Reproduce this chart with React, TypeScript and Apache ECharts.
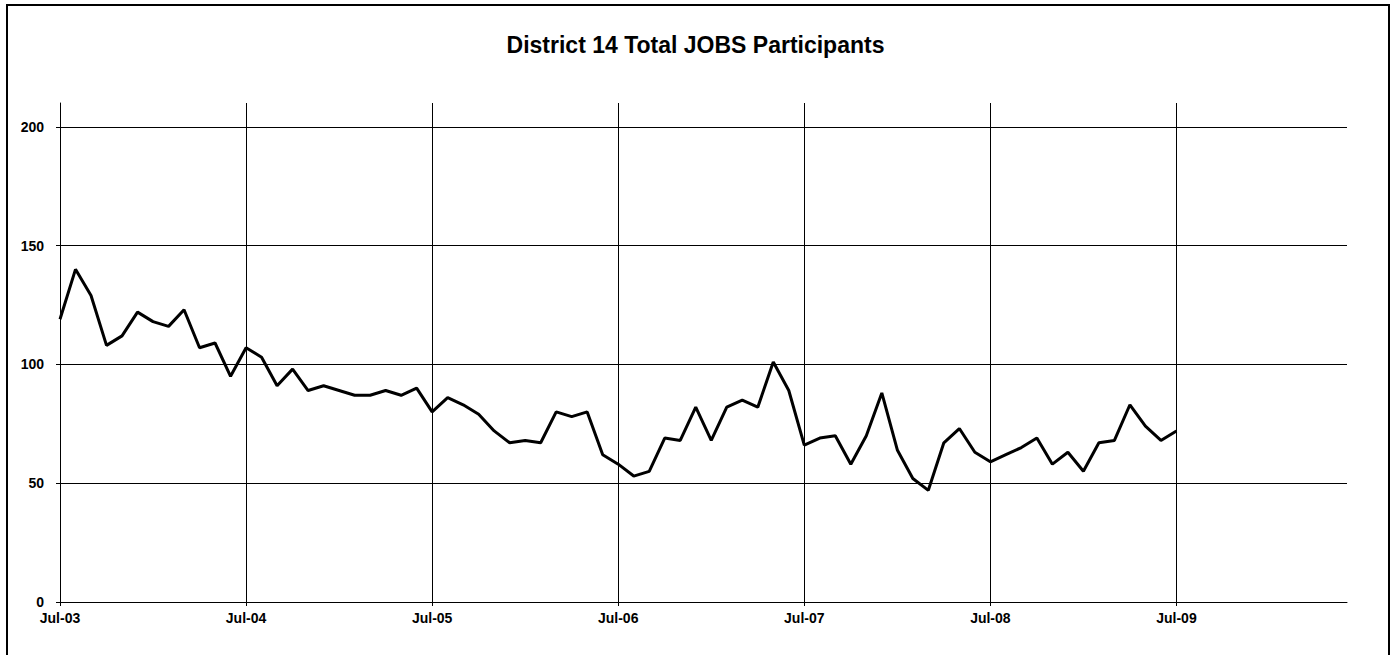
import React, { useEffect, useRef } from 'react';
import * as echarts from 'echarts';

const chartTitle = 'District 14 Total JOBS Participants';

// Monthly participants, Jul-03 .. Jul-09
const participants = [
  119, 140, 129, 108, 112, 122, 118, 116, 123, 107, 109, 95,
  107, 103, 91, 98, 89, 91, 89, 87, 87, 89, 87, 90,
  80, 86, 83, 79, 72, 67, 68, 67, 80, 78, 80, 62,
  58, 53, 55, 69, 68, 82, 68, 82, 85, 82, 101, 89,
  66, 69, 70, 58, 70, 88, 64, 52, 47, 67, 73, 63,
  59, 62, 65, 69, 58, 63, 55, 67, 68, 83, 74, 68,
  72,
];

const xTickLabels = ['Jul-03', 'Jul-04', 'Jul-05', 'Jul-06', 'Jul-07', 'Jul-08', 'Jul-09'];
const yTickValues = [0, 50, 100, 150, 200];
const monthsPerTick = 12;
const xMaxMonth = 83;
const yMax = 210;

const FONT = '"Liberation Sans", Arial, Helvetica, sans-serif';

export default function App() {
  const ref = useRef<HTMLDivElement>(null);

  useEffect(() => {
    if (!ref.current) return;
    const chart = echarts.init(ref.current, null, { renderer: 'svg' });
    const xTickValues = xTickLabels.map((_, i) => i * monthsPerTick);
    const data = participants.map((v, i) => [i, v]);

    chart.setOption({
      animation: false,
      backgroundColor: '#ffffff',
      title: {
        text: chartTitle,
        left: 'center',
        top: 28,
        textStyle: { fontFamily: FONT, fontWeight: 'bold', fontSize: 23, color: '#000' },
      },
      graphic: [
        {
          type: 'rect',
          silent: true,
          shape: { x: 7, y: 5, width: 1382, height: 700 },
          style: { fill: 'none', stroke: '#000', lineWidth: 2 },
        },
      ],
      grid: { left: 60, right: 44, top: 103, bottom: 53 },
      xAxis: {
        type: 'value',
        min: 0,
        max: xMaxMonth,
        interval: monthsPerTick,
        axisLine: { show: true, lineStyle: { color: '#000', width: 1 } },
        axisTick: {
          show: true,
          length: 4,
          inside: false,
          customValues: xTickValues,
          lineStyle: { color: '#000' },
        },
        axisLabel: {
          customValues: xTickValues,
          formatter: (v: number) => xTickLabels[Math.round(v / monthsPerTick)] ?? '',
          margin: 9,
          fontFamily: FONT,
          fontWeight: 'bold',
          fontSize: 14,
          color: '#000',
        },
        splitLine: { show: true, showMinLine: true, showMaxLine: true, lineStyle: { color: '#000', width: 1 } },
      },
      yAxis: {
        type: 'value',
        min: 0,
        max: yMax,
        interval: 50,
        axisLine: { show: true, lineStyle: { color: '#000', width: 1 } },
        axisTick: {
          show: true,
          length: 4,
          inside: false,
          customValues: yTickValues,
          lineStyle: { color: '#000' },
        },
        axisLabel: {
          customValues: yTickValues,
          margin: 16,
          fontFamily: FONT,
          fontWeight: 'bold',
          fontSize: 14,
          color: '#000',
        },
        splitLine: { show: true, showMinLine: true, showMaxLine: true, lineStyle: { color: '#000', width: 1 } },
      },
      series: [
        {
          type: 'line',
          data,
          symbol: 'none',
          showSymbol: false,
          lineStyle: { color: '#000', width: 3 },
          itemStyle: { color: '#000' },
        },
      ],
    });

    return () => chart.dispose();
  }, []);

  return (
    <div
      ref={ref}
      style={{ position: 'absolute', left: 0, top: 0, width: 1391, height: 655 }}
    />
  );
}
